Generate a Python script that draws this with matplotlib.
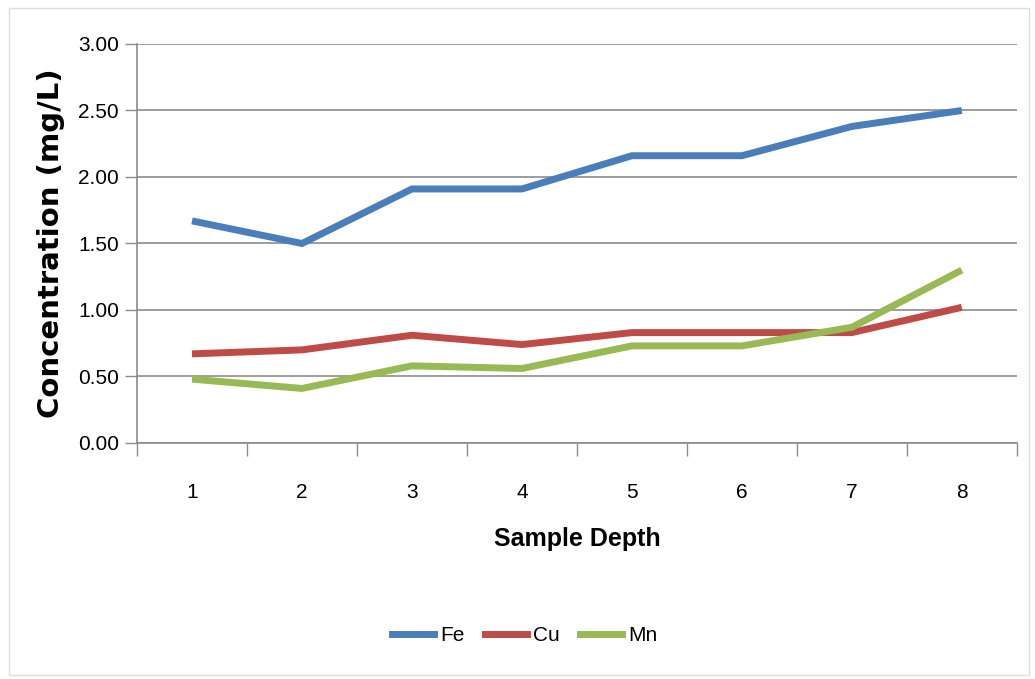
import matplotlib.pyplot as plt
from matplotlib.patches import Rectangle
from matplotlib.lines import Line2D

depths = ["1", "2", "3", "4", "5", "6", "7", "8"]
fe = [1.67, 1.50, 1.91, 1.91, 2.16, 2.16, 2.38, 2.50]
cu = [0.67, 0.70, 0.81, 0.74, 0.83, 0.83, 0.83, 1.02]
mn = [0.48, 0.41, 0.58, 0.56, 0.73, 0.73, 0.87, 1.30]

series_names = ["Fe", "Cu", "Mn"]
series_colors = ["#4a7ebb", "#be4b48", "#98b954"]

SANS = ["Liberation Sans", "DejaVu Sans"]

fig = plt.figure(figsize=(10.35, 6.79), dpi=100)
ax = fig.add_axes([0.1324, 0.3476, 0.85, 0.5876])

# chart outline
fig.patches.append(Rectangle((0.009, 0.006), 0.985, 0.982, transform=fig.transFigure,
                             fill=False, edgecolor="#dedede", linewidth=1.0))

x = list(range(1, len(depths) + 1))
for vals, name, col in zip([fe, cu, mn], series_names, series_colors):
    ax.plot(x, vals, color=col, linewidth=5, solid_capstyle="butt",
            solid_joinstyle="miter", label=name, zorder=3)

ax.set_xlim(0.5, len(depths) + 0.5)
ax.set_ylim(0, 3.0)
ax.set_yticks([0, 0.5, 1.0, 1.5, 2.0, 2.5, 3.0])
ax.set_yticklabels([f"{v:.2f}" for v in ax.get_yticks()], family=SANS, fontsize=15)
ax.yaxis.grid(True, color="#8c8c8c", linewidth=1.2, zorder=0)

# category labels between boundary ticks
ax.set_xticks([i + 0.5 for i in range(0, len(depths) + 1)])
ax.set_xticklabels([])
ax.set_xticks(x, minor=True)
ax.set_xticklabels(depths, minor=True, family=SANS, fontsize=15)
ax.tick_params(axis="x", which="major", length=9, width=1, color="#8c8c8c", direction="out")
ax.tick_params(axis="x", which="minor", length=0, pad=29)
ax.tick_params(axis="y", length=9, width=1, color="#8c8c8c", pad=4)

for s in ["top", "right"]:
    ax.spines[s].set_visible(False)
for s in ["left", "bottom"]:
    ax.spines[s].set_color("#8c8c8c")
    ax.spines[s].set_linewidth(1.2)

ax.set_xlabel("Sample Depth", family=SANS, fontsize=18, fontweight="bold", labelpad=18)
ax.set_ylabel("Concentration (mg/L)", family="DejaVu Sans", fontsize=21,
              fontweight="bold", labelpad=9)

handles = [Line2D([0], [0], color=c, linewidth=5) for c in series_colors]
leg = fig.legend(handles, series_names, loc="center", bbox_to_anchor=(0.507, 0.064),
                 ncol=3, frameon=False, handlelength=2.0, handletextpad=0.3,
                 columnspacing=1.0, prop={"family": SANS, "size": 15})

fig.savefig("out.png", dpi=100, facecolor="white")
